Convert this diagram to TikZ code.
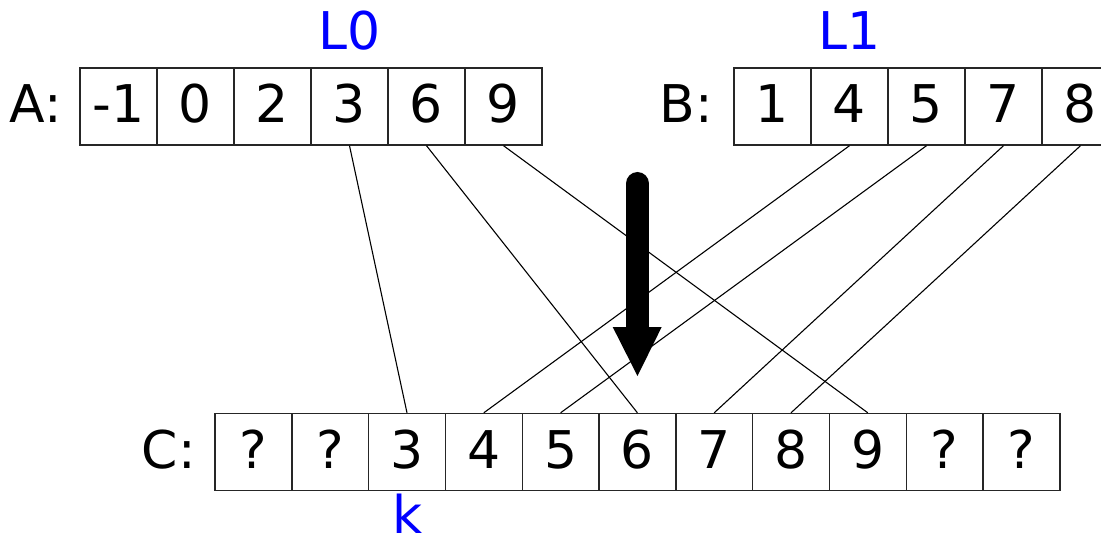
\documentclass[tikz,border=0pt]{standalone}
\usepackage{fontspec}
\setmainfont{DejaVu Sans}
\begin{document}
\begin{tikzpicture}[x=1pt,y=-1pt,
  cell/.style={draw=black!85,line width=1.4pt,minimum width=77pt,minimum height=77pt,
    inner sep=0pt,text height=40pt,text depth=8pt,
    font=\fontsize{52}{60}\selectfont},
  ccell/.style={cell,minimum width=76.8pt},
  rowlabel/.style={anchor=base east,inner sep=0pt,font=\fontsize{52}{60}\selectfont},
  tag/.style={anchor=base,inner sep=0pt,text=blue,font=\fontsize{52}{60}\selectfont},
  link/.style={draw=black,line width=1.1pt}]
\useasboundingbox (0,0) rectangle (1101,540);
\clip (0,0) rectangle (1101,540);

% array A
\foreach \v [count=\i from 0] in {-1,0,2,3,6,9}
  \node[cell] (a\i) at (118.5+77*\i,106.5) {\v};
% array B
\foreach \v [count=\i from 0] in {1,4,5,7,8}
  \node[cell] (b\i) at (772.5+77*\i,106.5) {\v};
% array C
\foreach \v [count=\i from 0] in {?,?,3,4,5,6,7,8,9,?,?}
  \node[ccell] (c\i) at (253.4+76.8*\i,452) {\v};

% row names
\node[rowlabel] (labA) at (62,123) {A:};
\node[rowlabel] (labB) at (713,123) {B:};
\node[rowlabel] (labC) at (196,468) {C:};

% index markers
\node[tag] (l0) at (349.5,50) {L0};
\node[tag] (l1) at (849.5,50) {L1};
\node[tag] (k) at (407.8,533) {k};

% merge links
\draw[link] (a3.south) -- (c2.north);
\draw[link] (a4.south) -- (c5.north);
\draw[link] (a5.south) -- (c8.north);
\draw[link] (b1.south) -- (c3.north);
\draw[link] (b2.south) -- (c4.north);
\draw[link] (b3.south) -- (c6.north);
\draw[link] (b4.south) -- (c7.north);

% big downward arrow
\coordinate (arrtop) at (637.5,183.5);
\coordinate (arrbase) at (637.5,330);
\coordinate (arrtip) at (637.5,376);
\draw[line width=23pt,line cap=round] (arrtop) -- (arrbase);
\fill (612.7,327) -- (661.7,327) -- (arrtip) -- cycle;
\end{tikzpicture}
\end{document}
